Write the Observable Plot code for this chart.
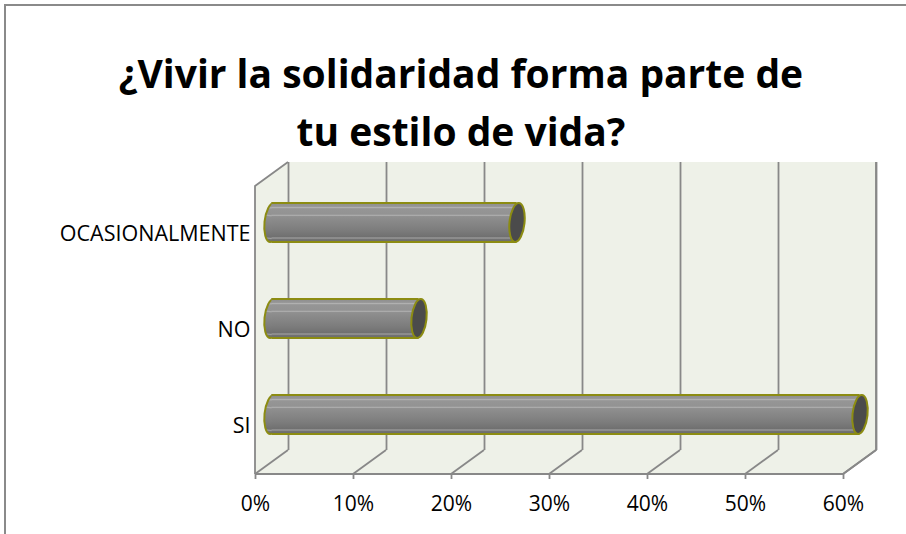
<!DOCTYPE html>
<html>
<head>
<meta charset="utf-8">
<script src="https://cdn.jsdelivr.net/npm/d3@7"></script>
<script src="https://cdn.jsdelivr.net/npm/@observablehq/plot@0.6"></script>
<style>
  html, body { margin: 0; padding: 0; background: #fff; overflow: hidden; }
  #wrap { position: relative; width: 906px; height: 534px; overflow: hidden; }
  #frame { position: absolute; left: 4px; top: 4px; width: 1000px; height: 1000px;
           border-left: 2px solid #8a8a8a; border-top: 2px solid #8a8a8a; box-sizing: border-box; }
  #title { position: absolute; left: 0; top: 44px; width: 922px; text-align: center;
           font-family: "Open Sans", sans-serif; font-weight: bold; font-size: 39px; line-height: 58px; color: #000; }
  #chart { position: absolute; left: 0; top: 0; }
</style>
</head>
<body>
<div id="wrap">
  <div id="frame"></div>
  <div id="title">¿Vivir la solidaridad forma parte de<br>tu estilo de vida?</div>
  <div id="chart"></div>
</div>
<script>
const categories = ["OCASIONALMENTE", "NO", "SI"];
const values = [0.25, 0.15, 0.60];
const xTicks = [0, 0.1, 0.2, 0.3, 0.4, 0.5, 0.6];
const tickLabels = ["0%", "10%", "20%", "30%", "40%", "50%", "60%"];

const data = categories.map((c, i) => ({cat: c, value: values[i]}));

const DX = 33, DY = -24;           // depth offset of the back wall
const wallFill = "#eef1e8";
const edge = "#888888";
const olive = "#8c8c12";

// ellipse symbol for cylinder ends
const ellipse = {
  draw(ctx, size) {
    const r = Math.sqrt(size / Math.PI);
    const ry = r, rx = r * 0.385, k = 0.5523;
    ctx.moveTo(0, -ry);
    ctx.bezierCurveTo(rx * k, -ry, rx, -ry * k, rx, 0);
    ctx.bezierCurveTo(rx, ry * k, rx * k, ry, 0, ry);
    ctx.bezierCurveTo(-rx * k, ry, -rx, ry * k, -rx, 0);
    ctx.bezierCurveTo(-rx, -ry * k, -rx * k, -ry, 0, -ry);
    ctx.closePath();
  }
};

function walls(index, scales, values, dim) {
  const x0 = scales.x(xTicks[0]), x1 = scales.x(xTicks[xTicks.length - 1]);
  const top = dim.marginTop, bottom = dim.height - dim.marginBottom;
  const g = d3.create("svg:g");
  g.append("rect").attr("x", x0 + DX).attr("y", top + DY)
    .attr("width", x1 - x0).attr("height", bottom - top).attr("fill", wallFill);
  g.append("path").attr("d", `M${x0},${bottom}L${x0},${top}L${x0 + DX},${top + DY}L${x0 + DX},${bottom + DY}Z`)
    .attr("fill", wallFill);
  g.append("path").attr("d", `M${x0},${bottom}L${x0},${top}L${x0 + DX},${top + DY}`)
    .attr("fill", "none").attr("stroke", edge).attr("stroke-width", 1.8);
  g.append("path").attr("d", `M${x0},${bottom}L${x1},${bottom}L${x1 + DX},${bottom + DY}L${x0 + DX},${bottom + DY}Z`)
    .attr("fill", wallFill);
  g.append("path").attr("d", `M${x0},${bottom}L${x1},${bottom}L${x1 + DX},${bottom + DY}L${x1 + DX},${top + DY}`)
    .attr("fill", "none").attr("stroke", edge).attr("stroke-width", 1.8);
  for (const t of xTicks) {
    const x = scales.x(t);
    g.append("line").attr("x1", x).attr("y1", bottom).attr("x2", x + DX).attr("y2", bottom + DY)
      .attr("stroke", edge).attr("stroke-width", 1.8);
  }
  return g.node();
}

const chart = Plot.plot({
  width: 906,
  height: 534,
  marginLeft: 255,
  marginRight: 63,
  marginTop: 186,
  marginBottom: 60,
  style: {fontFamily: "'Open Sans', sans-serif", background: "transparent", overflow: "visible"},
  x: {domain: [0, 0.6], label: null},
  y: {domain: categories, padding: 0, label: null},
  marks: [
    walls,
    Plot.ruleX(xTicks, {x: d => d, dx: DX, dy: DY, stroke: edge, strokeWidth: 1.8, strokeOpacity: 1}),
    Plot.dot(data, {x: () => 0, y: "cat", dx: DX / 2, dy: DY / 2, r: 19.5, symbol: ellipse, rotate: 6,
      fill: "url(#barGrad)", stroke: olive, strokeWidth: 2}),
    Plot.barX(data, {x: "value", y: "cat", dx: DX / 2, dy: DY / 2, insetTop: 28.5, insetBottom: 28.5,
      fill: "url(#barGrad)"}),
    Plot.ruleY(data, {x1: () => 0, x2: "value", y: "cat", dx: DX / 2, dy: DY / 2 - 19.5, stroke: olive, strokeWidth: 2}),
    Plot.ruleY(data, {x1: () => 0, x2: "value", y: "cat", dx: DX / 2, dy: DY / 2 + 19.5, stroke: olive, strokeWidth: 2}),
    Plot.dot(data, {x: "value", y: "cat", dx: DX / 2, dy: DY / 2, r: 19.5, symbol: ellipse, rotate: 6,
      fill: "#4b4b4b", stroke: olive, strokeWidth: 2}),
    Plot.axisX({ticks: xTicks, tickFormat: (d, i) => tickLabels[i], tickSize: 5, tickPadding: 17, label: null,
      fontSize: 21, stroke: edge, strokeWidth: 1.8, fill: "#000", strokeOpacity: 1}),
    Plot.axisY({tickSize: 0, tickPadding: 5, fontSize: 21.5, fill: "#000", label: null})
  ]
});

const svg = d3.select(chart);
const defs = svg.insert("defs", ":first-child");
const grad = defs.append("linearGradient").attr("id", "barGrad")
  .attr("x1", 0).attr("y1", 0).attr("x2", 0).attr("y2", 1);
[
  [0, "#8c8c8c"], [0.1, "#969696"], [0.13, "#b2b2b2"], [0.16, "#959595"],
  [0.3, "#939393"], [0.33, "#aeaeae"], [0.36, "#8f8f8f"],
  [0.7, "#7d7d7d"], [0.88, "#707070"], [0.91, "#a0a0a0"], [0.94, "#737373"], [1, "#6c6c6c"]
].forEach(([o, c]) => grad.append("stop").attr("offset", o).attr("stop-color", c));

document.getElementById("chart").appendChild(chart);
</script>
</body>
</html>
